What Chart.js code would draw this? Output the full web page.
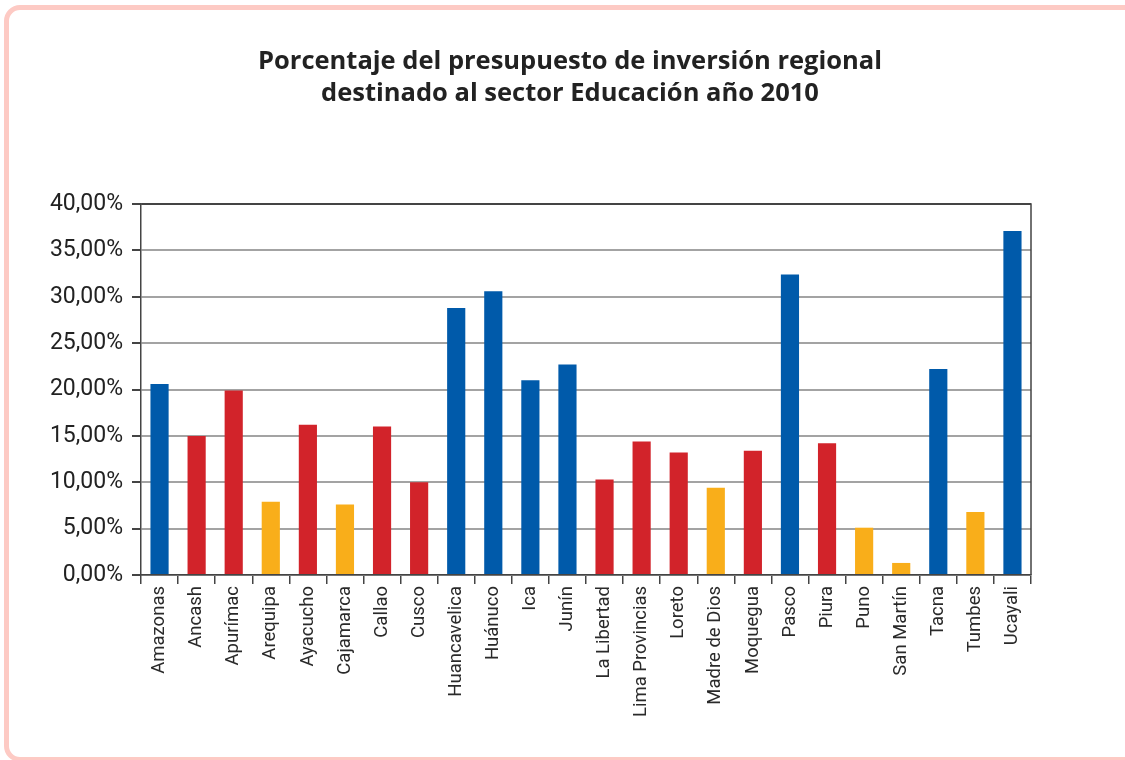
<!DOCTYPE html>
<html>
<head>
<meta charset="utf-8">
<script src="https://cdn.jsdelivr.net/npm/chart.js@4"></script>
<style>
  html, body { margin: 0; padding: 0; background: #fff; overflow: hidden; }
  #wrap { position: relative; width: 1125px; height: 760px; }
  #frame {
    position: absolute; left: 4px; top: 5px; width: 1140px; height: 747px;
    border: 5px solid #fdcac4; border-radius: 16px; pointer-events: none;
  }
  #title {
    position: absolute; left: 0; top: 43px; width: 1140px; text-align: center;
    font-family: 'Open Sans', sans-serif; font-weight: bold; font-size: 25.5px;
    line-height: 32px; color: #222;
  }
  canvas { position: absolute; left: 0; top: 0; }
</style>
</head>
<body>
<div id="wrap">
  <canvas id="myChart" width="1125" height="760"></canvas>
  <div id="title"></div>
  <div id="frame"></div>
</div>
<script>
const regions = ['Amazonas', 'Ancash', 'Apurímac', 'Arequipa', 'Ayacucho', 'Cajamarca', 'Callao', 'Cusco',
  'Huancavelica', 'Huánuco', 'Ica', 'Junín', 'La Libertad', 'Lima Provincias', 'Loreto', 'Madre de Dios',
  'Moquegua', 'Pasco', 'Piura', 'Puno', 'San Martín', 'Tacna', 'Tumbes', 'Ucayali'];

// percentage of the regional investment budget for Education
const shares = [20.6, 15.0, 19.9, 7.9, 16.2, 7.6, 16.0, 10.0,
  28.8, 30.6, 21.0, 22.7, 10.3, 14.4, 13.2, 9.4,
  13.4, 32.4, 14.2, 5.1, 1.3, 22.2, 6.8, 37.1];

// colour group of each bar: 'high', 'mid', 'low'
const groups = ['high', 'mid', 'mid', 'low', 'mid', 'low', 'mid', 'mid',
  'high', 'high', 'high', 'high', 'mid', 'mid', 'mid', 'low',
  'mid', 'high', 'mid', 'low', 'low', 'high', 'low', 'high'];

const groupColors = { high: '#005aaa', mid: '#d2232a', low: '#f9ae1a' };

const titleLines = ['Porcentaje del presupuesto de inversión regional', 'destinado al sector Educación año 2010'];

const axisColor = '#444';

document.getElementById('title').innerHTML = titleLines.join('<br>');

// box around the plot (top and right edges)
const frameBox = {
  id: 'frameBox',
  afterDraw(chart) {
    const { ctx, chartArea: a } = chart;
    ctx.save();
    ctx.strokeStyle = axisColor;
    ctx.lineWidth = 1.5;
    ctx.beginPath();
    ctx.moveTo(a.left, a.top);
    ctx.lineTo(a.right, a.top);
    ctx.lineTo(a.right, a.bottom);
    ctx.stroke();
    ctx.restore();
  }
};

const ctx = document.getElementById('myChart').getContext('2d');
new Chart(ctx, {
  type: 'bar',
  data: {
    labels: regions,
    datasets: [{
      data: shares,
      backgroundColor: groups.map(g => groupColors[g]),
      categoryPercentage: 1,
      barPercentage: 0.49
    }]
  },
  options: {
    responsive: false,
    animation: false,
    layout: { padding: { left: 0, right: 94, top: 204, bottom: 0 } },
    plugins: {
      legend: { display: false },
      tooltip: { enabled: false },
      title: { display: false }
    },
    scales: {
      x: {
        offset: true,
        grid: { offset: true, drawOnChartArea: false, tickLength: 9, color: axisColor, lineWidth: 1.5 },
        border: { color: axisColor, width: 1.5 },
        ticks: {
          color: '#2a2a2a',
          minRotation: 90, maxRotation: 90, autoSkip: false, padding: 2,
          font: { family: "'Liberation Sans Narrow', 'Roboto', sans-serif", size: 18.5 }
        },
        afterFit(scale) { scale.height = 185; }
      },
      y: {
        min: 0, max: 40,
        grid: {
          tickLength: 9,
          color: ctx => ctx.tick && ctx.tick.value === 40 ? axisColor : '#a3a3a3',
          tickColor: axisColor,
          lineWidth: 2
        },
        border: { color: axisColor, width: 1.5 },
        ticks: {
          stepSize: 5,
          color: '#222',
          padding: 9,
          font: { family: "'Liberation Sans Narrow', 'Roboto', sans-serif", size: 23 },
          callback: v => v.toFixed(2).replace('.', ',') + '%'
        },
        afterFit(scale) { scale.width = 141; }
      }
    }
  },
  plugins: [frameBox]
});
</script>
</body>
</html>
